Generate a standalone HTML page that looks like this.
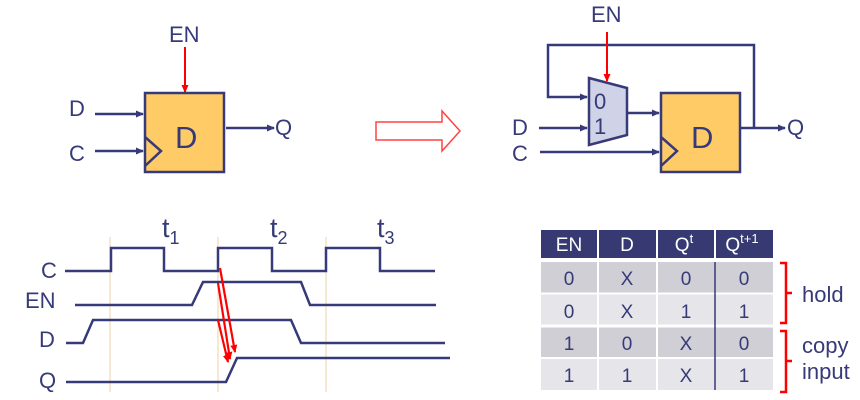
<!DOCTYPE html>
<html><head><meta charset="utf-8"><style>
html,body{margin:0;padding:0;background:#fff;}
svg{display:block;font-family:"Liberation Sans",sans-serif;}
</style></head><body>
<svg width="860" height="400" viewBox="0 0 860 400" xmlns="http://www.w3.org/2000/svg">
<defs>
<marker id="ab" markerWidth="8" markerHeight="8" refX="7" refY="4" orient="auto" markerUnits="userSpaceOnUse"><path d="M0,0.5 L8,4 L0,7.5z" fill="#363a78"/></marker>
<marker id="ar" markerWidth="8" markerHeight="8" refX="7" refY="4" orient="auto" markerUnits="userSpaceOnUse"><path d="M0,0.5 L8,4 L0,7.5z" fill="#f00"/></marker>
</defs>
<g fill="#363a78" font-size="22">
<text x="169" y="42">EN</text>
<line x1="185" y1="47" x2="185" y2="92" stroke="#f00" stroke-width="2" marker-end="url(#ar)"/>
<rect x="145" y="93" width="79" height="79" fill="#fecb67" stroke="#363a78" stroke-width="2.5"/>
<polyline points="145,137 161,151 145,166" fill="none" stroke="#363a78" stroke-width="2.5"/>
<text x="175" y="148" font-size="31">D</text>
<text x="69" y="116">D</text>
<line x1="95" y1="114" x2="143" y2="114" stroke="#363a78" stroke-width="2.5" marker-end="url(#ab)"/>
<text x="69" y="161">C</text>
<line x1="95" y1="151" x2="143" y2="151" stroke="#363a78" stroke-width="2.5" marker-end="url(#ab)"/>
<line x1="226" y1="128" x2="274" y2="128" stroke="#363a78" stroke-width="2.5" marker-end="url(#ab)"/>
<text x="275" y="135">Q</text>
<polygon points="376,122 442,122 442,111 460,131 442,151 442,140 376,140" fill="#fff" stroke="#f44" stroke-width="1.5"/>
<text x="591" y="22">EN</text>
<polyline points="754,128 754,45 548,45 548,97 587,97" fill="none" stroke="#363a78" stroke-width="2.5" marker-end="url(#ab)"/>
<polygon points="589,78 627,88 627,135 589,145" fill="#d0d2e8" stroke="#363a78" stroke-width="2.5"/>
<line x1="607" y1="32" x2="607" y2="81" stroke="#f00" stroke-width="2" marker-end="url(#ar)"/>
<text x="594" y="109">0</text>
<text x="594" y="134">1</text>
<text x="512" y="135">D</text>
<line x1="539" y1="128" x2="587" y2="128" stroke="#363a78" stroke-width="2.5" marker-end="url(#ab)"/>
<text x="512" y="161">C</text>
<line x1="540" y1="152" x2="659" y2="152" stroke="#363a78" stroke-width="2.5" marker-end="url(#ab)"/>
<line x1="628" y1="113" x2="659" y2="113" stroke="#363a78" stroke-width="2.5" marker-end="url(#ab)"/>
<rect x="661" y="93" width="79" height="79" fill="#fecb67" stroke="#363a78" stroke-width="2.5"/>
<polyline points="661,137 677,151 661,166" fill="none" stroke="#363a78" stroke-width="2.5"/>
<text x="691" y="148" font-size="31">D</text>
<line x1="741" y1="128" x2="785" y2="128" stroke="#363a78" stroke-width="2.5" marker-end="url(#ab)"/>
<text x="787" y="135">Q</text>
<g stroke="#efd9b5" stroke-width="1.2"><line x1="110" y1="237" x2="110" y2="392"/><line x1="218" y1="237" x2="218" y2="392"/><line x1="326" y1="237" x2="326" y2="392"/></g>
<text x="162" y="237" font-size="27">t<tspan font-size="18" dy="7">1</tspan></text>
<text x="270" y="237" font-size="27">t<tspan font-size="18" dy="7">2</tspan></text>
<text x="377" y="237" font-size="27">t<tspan font-size="18" dy="7">3</tspan></text>
<text x="41" y="278">C</text><text x="25" y="308">EN</text><text x="39" y="347">D</text><text x="39" y="388">Q</text>
<g fill="none" stroke="#363a78" stroke-width="2.5">
<polyline points="65,271 111,271 111,248 164,248 164,271 218,271 218,248 272,248 272,271 326,271 326,248 380,248 380,271 435,271"/>
<polyline points="75,305 192,305 203,282 301,282 310,305 436,305"/>
<polyline points="66,343 83,343 93,320 291,320 301,343 445,343"/>
<polyline points="66,382 226,382 237,358 450,358"/>
</g>
<g stroke="#f00" stroke-width="2.2">
<line x1="220" y1="268" x2="235" y2="352" marker-end="url(#ar)"/>
<line x1="218" y1="283" x2="230" y2="359" marker-end="url(#ar)"/>
<line x1="218" y1="320" x2="228" y2="362" marker-end="url(#ar)"/>
</g>
<rect x="541" y="230" width="232" height="28" fill="#373a72"/>
<rect x="541" y="262" width="232" height="31" fill="#cfcfd5"/>
<rect x="541" y="294" width="232" height="32" fill="#e6e6ea"/>
<rect x="541" y="327" width="232" height="30" fill="#cfcfd5"/>
<rect x="541" y="359" width="232" height="31" fill="#e6e6ea"/>
<g stroke="#fff" stroke-width="2"><line x1="598" y1="230" x2="598" y2="390"/><line x1="657" y1="230" x2="657" y2="390"/><line x1="715" y1="230" x2="715" y2="260"/><line x1="541" y1="293.5" x2="773" y2="293.5"/><line x1="541" y1="358" x2="773" y2="358"/><line x1="541" y1="326" x2="773" y2="326" stroke-width="3"/></g>
<line x1="715" y1="262" x2="715" y2="390" stroke="#363a78" stroke-width="1.5"/>
<g font-size="19" text-anchor="middle">
<text x="569" y="251" fill="#fff">EN</text><text x="627" y="251" fill="#fff">D</text>
<text x="684" y="251" fill="#fff">Q<tspan font-size="13" dy="-8">t</tspan></text>
<text x="742" y="251" fill="#fff">Q<tspan font-size="13" dy="-8">t+1</tspan></text>
<text x="569" y="285">0</text><text x="627" y="285">X</text><text x="686" y="285">0</text><text x="744" y="285">0</text>
<text x="569" y="318">0</text><text x="627" y="318">X</text><text x="686" y="318">1</text><text x="744" y="318">1</text>
<text x="569" y="350">1</text><text x="627" y="350">0</text><text x="686" y="350">X</text><text x="744" y="350">0</text>
<text x="569" y="382">1</text><text x="627" y="382">1</text><text x="686" y="382">X</text><text x="744" y="382">1</text>
</g>
<g fill="none" stroke="#f00" stroke-width="2.5">
<path d="M780,263 H786 V293 H792 M786,293 V323 H780"/>
<path d="M780,331 H786 V361 H792 M786,361 V392 H780"/>
</g>
<text x="802" y="302">hold</text>
<text x="802" y="353">copy</text>
<text x="802" y="379">input</text>
</g>
</svg>
</body></html>
